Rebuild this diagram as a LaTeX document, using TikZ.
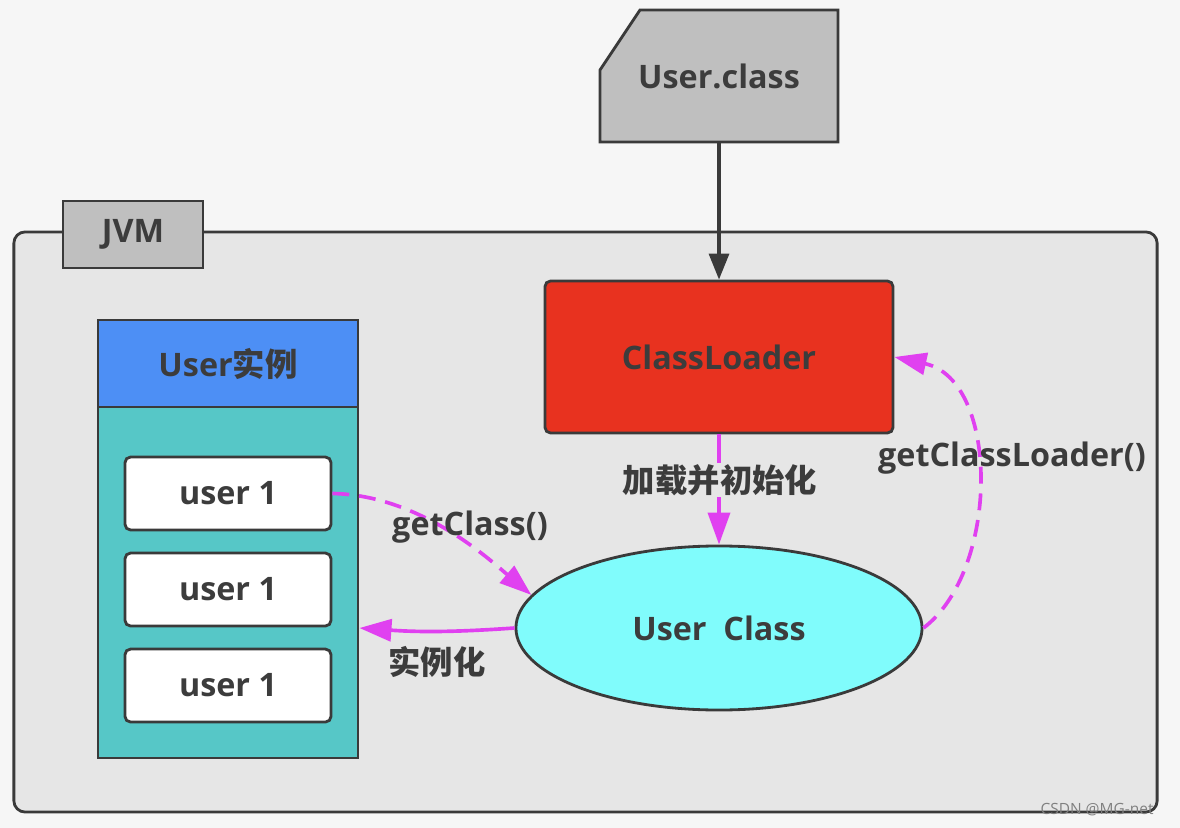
\documentclass[tikz,border=0pt]{standalone}
\usepackage{fontspec}
\setmainfont{Open Sans}
\newfontfamily\cjk{Noto Sans CJK SC Bold}
\usetikzlibrary{shapes.geometric,arrows.meta,positioning}
\definecolor{pagebg}{HTML}{F6F6F6}
\definecolor{jvmgray}{HTML}{E6E6E6}
\definecolor{boxgray}{HTML}{BFBFBF}
\definecolor{boxline}{HTML}{3A3A3A}
\definecolor{txt}{HTML}{3C3C3C}
\definecolor{loaderred}{HTML}{E8321F}
\definecolor{headblue}{HTML}{4D8FF5}
\definecolor{instteal}{HTML}{56C7C7}
\definecolor{classcyan}{HTML}{80FCFC}
\definecolor{callpink}{HTML}{E040F0}
\newcommand{\lbl}{\fontsize{23}{27}\selectfont\bfseries}
\tikzstyle{box}=[draw=boxline,line width=2pt,font=\lbl,text=txt]
\tikzstyle{graybox}=[box,fill=boxgray]
\tikzstyle{userbox}=[box,fill=white,rounded corners=4pt,minimum width=5.15cm,
minimum height=1.825cm]
\tikzstyle{call}=[draw=callpink,line width=2.6pt,-{Triangle[length=0.8cm,width=0.55cm]}]
\tikzstyle{calldash}=[call,dash pattern=on 12pt off 7pt]
\tikzstyle{calltext}=[font=\lbl,text=txt]

\begin{document}
\begin{tikzpicture}[x=0.025cm,y=-0.025cm,node distance=2.4cm,on grid]
  \fill[pagebg] (0,0) rectangle (1180,828);
  \useasboundingbox (0,0) rectangle (1180,828);

  % JVM frame and its tab
  \node[box,fill=jvmgray,rounded corners=8pt,minimum width=28.575cm,
    minimum height=14.5cm] (jvm) at (585.5,522) {};
  \node[graybox,minimum width=3.5cm,minimum height=1.675cm] (jvmtab)
    at (133,234.5) {JVM};

  % class file with its cut corner
  \draw[graybox] (600,70) -- (640,10) -- (838,10) -- (838,142) -- (600,142) -- cycle;
  \node[font=\lbl,text=txt,minimum width=5.95cm,minimum height=3.3cm,
    inner sep=0pt,outer sep=0pt] (ucfile) at (719,76) {User.class};

  \node[box,fill=loaderred,rounded corners=4pt,minimum width=8.7cm,
    minimum height=3.8cm] (loader) at (719,357) {ClassLoader};

  % instances
  \node[box,fill=instteal,minimum width=6.5cm,minimum height=8.775cm]
    (instbody) at (228,582.5) {};
  \node[box,fill=headblue,minimum width=6.5cm,minimum height=2.175cm]
    (insthead) at (228,363.5) {User{\cjk 实例}};
  \node[userbox] (u1) at (228,493.5) {user 1};
  \node[userbox, below=of u1] (u2) {user 1};
  \node[userbox, below=of u2] (u3) {user 1};

  \node[box,fill=classcyan,ellipse,minimum width=10.15cm,minimum height=4.1cm]
    (uclass) at (719,628) {User\ \ Class};

  \draw[draw=boxline,line width=2.4pt,-{Triangle[length=0.65cm,width=0.5cm]}]
    (ucfile.south) -- (loader.north);
  \draw[call] (loader.south) -- (uclass.north);
  \node[calltext,fill=jvmgray,inner sep=1pt] (loadtext) at (720,480)
    {\cjk 加载并初始化};

  \draw[calldash] (u1.east) .. controls (420,495) and (490,560) .. (uclass.170);
  \node[calltext] (getcls) at (470,527) {getClass()};

  \draw[call] (uclass.west) to[bend left=4] (uclass.west -| instbody.east);
  \node[calltext] (newtext) at (437,662) {\cjk 实例化};

  \draw[calldash] (uclass.east) .. controls (1000,570) and (1000,380) .. (loader.east);
  \node[calltext] (getldr) at (1012,458) {getClassLoader()};

  \node[text=gray,font=\fontsize{11}{13}\selectfont] (mark) at (1097,810)
    {CSDN @MG-net};
\end{tikzpicture}
\end{document}
